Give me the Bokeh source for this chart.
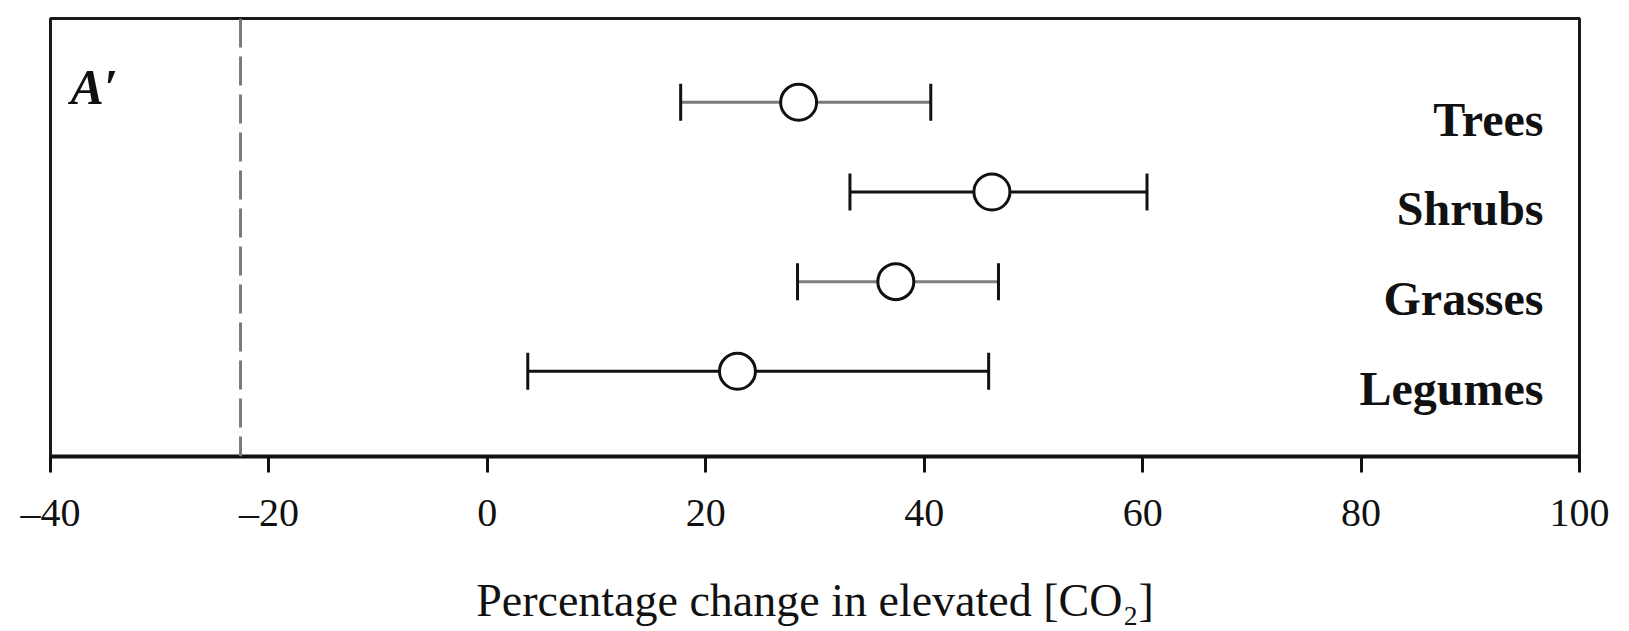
import math
from bokeh.plotting import figure
from bokeh.models import ColumnDataSource, FixedTicker, Span, Label
from bokeh.core.properties import value
from bokeh.embed import file_html
from bokeh.resources import INLINE

# ---- data ----
categories = ["Trees", "Shrubs", "Grasses", "Legumes"]
means = [28.5, 46.2, 37.4, 22.9]
lower = [17.7, 33.2, 28.4, 3.7]
upper = [40.6, 60.4, 46.8, 45.9]
row_pos = [4, 3, 2, 1]
bar_colors = ["#7a7a7a", "#111111", "#7f7f7f", "#111111"]
x_ticks = [-40, -20, 0, 20, 40, 60, 80, 100]
x_tick_labels = ["–40", "–20", "0", "20", "40", "60", "80", "100"]
reference_line = -22.6
panel_label = "A′"
x_label = "Percentage change in elevated [CO₂]"

X_START, X_END = -40, 100
FONT = "Liberation Serif"

p = figure(frame_width=1529, frame_height=438,
           x_range=(X_START, X_END), y_range=(0.05, 4.935),
           output_backend="svg", toolbar_location=None, y_axis_location=None,
           min_border_left=50, min_border_right=34, min_border_top=18,
           min_border_bottom=159, background_fill_color="white",
           border_fill_color="white")

p.xgrid.visible = False
p.ygrid.visible = False
p.outline_line_color = "#1a1a1a"
p.outline_line_width = 3
p.outline_line_alpha = 1.0

ax = p.xaxis[0]
ax.ticker = FixedTicker(ticks=x_ticks)
ax.major_label_overrides = {t: l for t, l in zip(x_ticks, x_tick_labels)}
ax.minor_tick_line_color = None
ax.major_tick_in = 0
ax.major_tick_out = 16
ax.major_tick_line_width = 3
ax.major_tick_line_color = "#111111"
ax.axis_line_width = 4
ax.axis_line_color = "#111111"
ax.major_label_text_font = FONT
ax.major_label_text_font_size = "40px"
ax.major_label_text_color = "#111111"
ax.major_label_standoff = 17
ax.axis_label = x_label
ax.axis_label_text_font = FONT
ax.axis_label_text_font_size = "46px"
ax.axis_label_text_font_style = "normal"
ax.axis_label_text_color = "#111111"
ax.axis_label_standoff = 37

p.add_layout(Span(location=reference_line, dimension="height",
                  line_color="#7a7a7a", line_width=3, line_dash="29 9"))

src = ColumnDataSource(dict(cat=categories, y=row_pos, mean=means,
                            lo=lower, hi=upper, color=bar_colors))

p.segment(x0="lo", y0="y", x1="hi", y1="y", line_color="color",
          line_width=3, source=src)
p.scatter(x="lo", y="y", marker="dash", angle=math.pi / 2, size=37,
          line_color="#111111", line_width=3, source=src)
p.scatter(x="hi", y="y", marker="dash", angle=math.pi / 2, size=37,
          line_color="#111111", line_width=3, source=src)
p.scatter(x="mean", y="y", marker="circle", size=36, fill_color="white",
          line_color="#111111", line_width=3, source=src)

p.text(x=X_END, y="y", text="cat", x_offset=-36, y_offset=17,
       text_align="right", text_baseline="alphabetic",
       text_font=value(FONT), text_font_style="bold",
       text_font_size="48px", text_color="#111111", source=src)

p.add_layout(Label(x=X_START, y=row_pos[0], x_offset=20, y_offset=15,
                   text=panel_label,
                   text_font=FONT, text_font_style="bold italic",
                   text_font_size="50px", text_baseline="alphabetic",
                   text_color="#111111"))

open("out.html", "w").write(file_html(p, INLINE))
